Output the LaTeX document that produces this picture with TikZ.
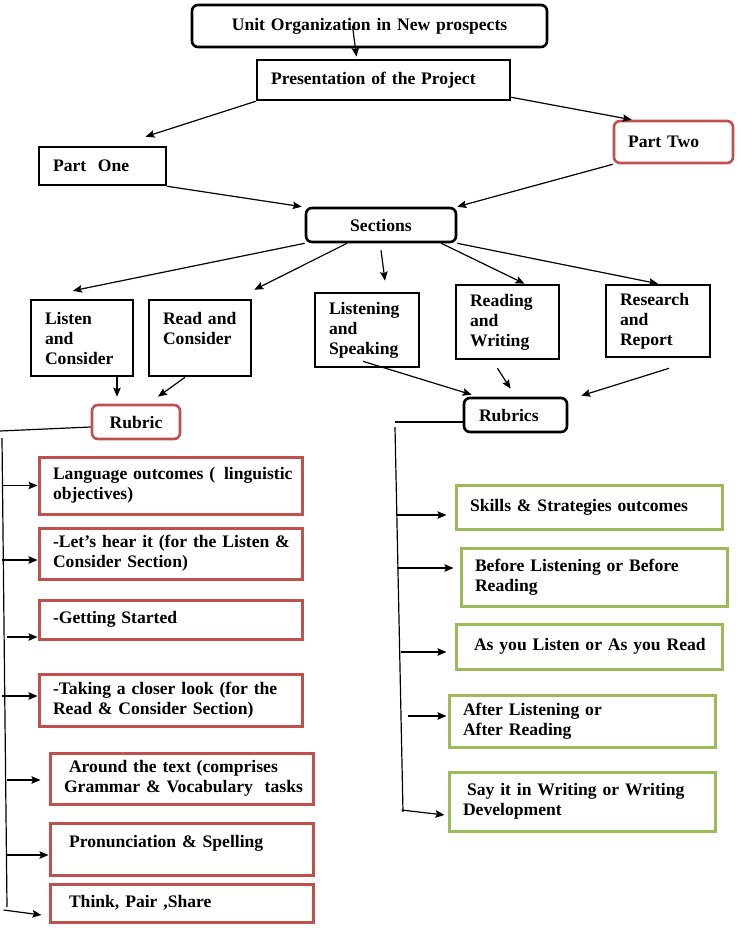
\documentclass[tikz,border=0pt]{standalone}
\usepackage{fontspec}
\setmainfont{Liberation Serif}
\usepackage{xcolor}
\usetikzlibrary{arrows.meta,positioning}

\definecolor{accred}{RGB}{192,80,77}
\definecolor{accgreen}{RGB}{155,187,89}
\hyphenpenalty=10000
\exhyphenpenalty=10000

\begin{document}
\begin{tikzpicture}[->, >={Stealth[length=9pt,width=7.5pt,inset=1.5pt]}, x=1pt, y=-1pt, line width=1.2pt,
	every node/.style={font=\bfseries\fontsize{17.6}{20}\selectfont}]
	\tikzstyle{box}=[draw=black, line width=2.6pt, align=left, inner xsep=14pt, inner ysep=0pt]
	\tikzstyle{rbox}=[box, rounded corners=6pt]
	\tikzstyle{redbox}=[box, draw=accred, line width=3pt]
	\tikzstyle{greenbox}=[box, draw=accgreen, line width=3pt]

	\useasboundingbox (0,0) rectangle (737,929);

	\node[rbox, align=center, text width=327pt, minimum height=42pt] (unit) at (369.5,26) {Unit Organization in New prospects};
	\node[box, text width=225pt, minimum height=40pt] (pres) at (383.5,80) {Presentation of the Project};
	\node[box, text width=99pt, minimum height=38pt] (partone) at (102.5,166) {Part\ \ One};
	\node[rbox, draw=accred, text width=91pt, minimum height=42pt] (parttwo) at (673.5,142) {Part Two};
	\node[rbox, align=center, text width=122pt, minimum height=34pt] (sections) at (381,225) {Sections};

	\node[box, text width=74pt, minimum height=76pt] (lc) at (82,338) {Listen\\and\\Consider};
	\node[box, text width=74pt, minimum height=76pt, text depth=40pt] (rc) at (200,338) {Read and\\Consider};
	\node[box, text width=76pt, minimum height=74pt] (ls) at (367,330) {Listening\\and\\Speaking};
	\node[box, text width=75pt, minimum height=74pt] (rw) at (507.5,322) {Reading\\and\\Writing};
	\node[box, text width=76pt, minimum height=72pt] (rr) at (658,321) {Research\\and\\Report};

	\node[rbox, draw=accred, align=center, text width=60pt, minimum height=34pt] (rubric) at (136,422) {Rubric};
	\node[rbox, text width=73pt, inner xsep=15pt, minimum height=34pt] (rubrics) at (515.5,415) {Rubrics};

	\node[redbox, text width=235pt, minimum height=57pt] (lang) at (170.5,485.5) {Language~outcomes~(~\,linguistic\\objectives)};
	\node[redbox, text width=235pt, minimum height=51pt] (hear) at (170.5,553.5) {-Let's~hear~it~(for~the~Listen~\&\\Consider Section)};
	\node[redbox, text width=235pt, minimum height=39pt] (started) at (170.5,619.5) {-Getting Started};
	\node[redbox, text width=235pt, minimum height=52pt] (closer) at (170.5,700) {-Taking a closer look (for the\\Read \& Consider Section)};
	\node[redbox, text width=235pt, minimum height=51pt] (around) at (181.5,778.5) {\hspace{5pt}Around the text (comprises\\Grammar~\&~Vocabulary~~tasks};
	\node[redbox, text width=225pt, inner xsep=19pt, minimum height=52pt, text depth=16pt] (pron) at (181.5,849) {Pronunciation \& Spelling};
	\node[redbox, text width=225pt, inner xsep=19pt, minimum height=38pt] (think) at (181.5,903) {Think, Pair ,Share};

	\node[greenbox, text width=238pt, minimum height=44pt] (skills) at (589,507) {Skills \& Strategies outcomes};
	\node[greenbox, text width=238pt, minimum height=58pt] (before) at (594,577) {Before Listening or Before\\Reading};
	\node[greenbox, text width=230pt, inner xsep=18pt, minimum height=45pt] (asyou) at (589,646.5) {As~you~Listen~or~As~you~Read};
	\node[greenbox, text width=238pt, minimum height=52pt] (after) at (582,721) {After Listening or\\After Reading};
	\node[greenbox, text width=238pt, minimum height=59pt] (sayit) at (582,801.5) {\hspace{4pt}Say it in Writing or Writing\\Development};

	\draw ([xshift=-17pt]unit.center) -- ([xshift=-27pt,yshift=2pt]pres.north);
	\draw (pres.south west) -- ([xshift=43pt,yshift=9pt]partone.north);
	\draw ([yshift=4pt]pres.south east) -- ([xshift=19pt]parttwo.north west);
	\draw (partone.south east) -- ([xshift=-3pt]sections.north west);
	\draw (parttwo.south west) -- (sections.north east);

	\draw (sections.south west) -- ([xshift=-9pt,yshift=8pt]lc.north);
	\draw ([xshift=-34pt]sections.south) -- ([xshift=2pt,yshift=9pt]rc.north east);
	\draw ([yshift=-7pt]sections.south) -- ([xshift=18pt,yshift=11pt]ls.north);
	\draw ([xshift=-16pt]sections.south east) -- ([xshift=17pt]rw.north);
	\draw (sections.south east) -- (rr.north);

	\draw ([xshift=35pt]lc.south) -- ([xshift=-19pt,yshift=7pt]rubric.north);
	\draw ([xshift=-15pt]rc.south) -- ([xshift=22pt,yshift=7pt]rubric.north);
	\draw ([xshift=-4pt,yshift=7pt]ls.south) -- ([xshift=9pt,yshift=2pt]rubrics.north west);
	\draw ([xshift=-10pt,yshift=-8pt]rw.south) -- ([xshift=-5pt,yshift=8pt]rubrics.north);
	\draw ([xshift=11pt,yshift=-10pt]rr.south) -- ([xshift=13pt,yshift=1pt]rubrics.north east);

	\coordinate (lhook) at (0,431);
	\coordinate (ltop) at (2,438);
	\coordinate (lbot) at (7,907);
	\draw[-] ([yshift=-5pt]rubric.west) -- (lhook);
	\draw[-] (ltop) -- (lbot);
	\draw[<-] (lang.west) -- ++(-36,0);
	\draw[<-] ([yshift=-6.5pt]hear.west) -- ++(-36,0);
	\draw[<-] ([yshift=-17.5pt]started.west) -- ++(-31,0);
	\draw[<-] ([yshift=4pt]closer.west) -- ++(-36,0);
	\draw[<-] ([xshift=-8pt,yshift=-1.5pt]around.west) -- ++(-34,0);
	\draw[<-] ([yshift=-6pt]pron.west) -- ++(-43,0);
	\draw[<-] ([xshift=-7pt,yshift=-12pt]think.west) -- ++(-38,-5);

	\coordinate (rhook) at (395,422);
	\coordinate (rtop) at (395,427);
	\coordinate (rbot) at (403,812);
	\draw[-] ([yshift=-7pt]rubrics.west) -- (rhook);
	\draw[-] (rtop) -- (rbot);
	\draw[<-] ([xshift=-8pt,yshift=-8pt]skills.west) -- ++(-50,0);
	\draw[<-] ([xshift=-6pt,yshift=9pt]before.west) -- ++(-57,0);
	\draw[<-] ([xshift=-8pt,yshift=-5.5pt]asyou.west) -- ++(-46,0);
	\draw[<-] ([xshift=-1pt,yshift=5pt]after.west) -- ++(-39,0);
	\draw[<-] ([xshift=-3pt,yshift=-13.5pt]sayit.west) -- ++(-43,-5);
\end{tikzpicture}
\end{document}
